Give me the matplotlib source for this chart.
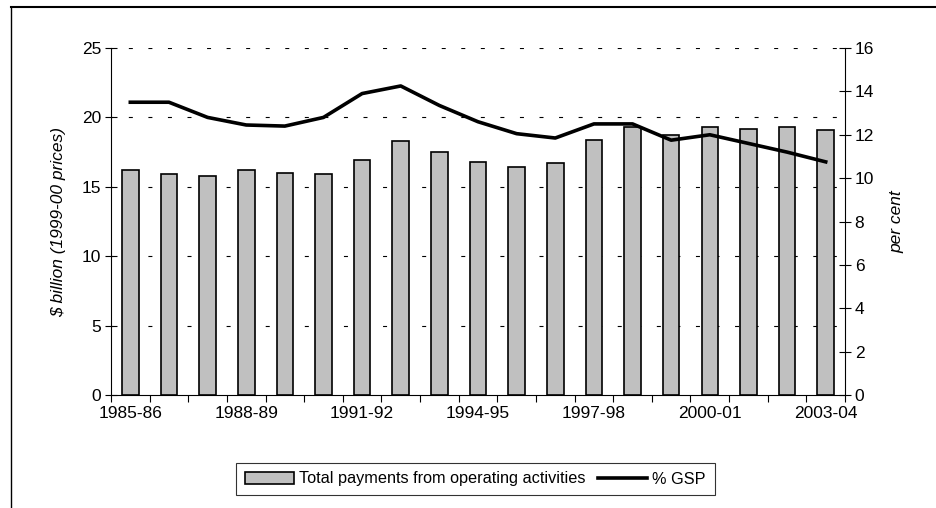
import numpy as np
import matplotlib.pyplot as plt
from matplotlib.lines import Line2D

plt.rcParams['font.family'] = ['Liberation Sans', 'DejaVu Sans']

years = ["1985-86", "1986-87", "1987-88", "1988-89", "1989-90", "1990-91",
         "1991-92", "1992-93", "1993-94", "1994-95", "1995-96", "1996-97",
         "1997-98", "1998-99", "1999-00", "2000-01", "2001-02", "2002-03",
         "2003-04"]
payments = [16.2, 15.9, 15.8, 16.2, 16.0, 15.9, 16.9, 18.3, 17.5, 16.8,
            16.4, 16.7, 18.4, 19.3, 18.7, 19.3, 19.2, 19.3, 19.1]
pct_gsp = [13.5, 13.5, 12.8, 12.45, 12.4, 12.8, 13.9, 14.25, 13.35, 12.6,
           12.05, 11.85, 12.5, 12.5, 11.75, 12.0, 11.6, 11.2, 10.75]
label_every = 3
fs = 12.5

fig = plt.figure(figsize=(9.36, 5.08), dpi=100)
ax = fig.add_axes([0.1186, 0.2224, 0.9028 - 0.1186, 0.9055 - 0.2224])
ax2 = ax.twinx()

x = np.arange(len(years))
ax.bar(x, payments, width=0.43, color="#c0c0c0", edgecolor="black",
       linewidth=1.2, zorder=3, label="Total payments from operating activities")
ax2.plot(x, pct_gsp, color="black", linewidth=2.6, label="% GSP",
         solid_joinstyle="round")

ax.set_xlim(-0.5, len(years) - 0.5)
ax.set_ylim(0, 25)
ax.set_yticks(np.arange(0, 26, 5))
ax2.set_ylim(0, 16)
ax2.set_yticks(np.arange(0, 17, 2))

# gridlines, dashed
for v in np.arange(5, 26, 5):
    ax.axhline(v, color="black", lw=0.8, linestyle=(2, (3.6, 14)), zorder=1)

ax.set_xticks(np.arange(-0.5, len(years), 1))
ax.set_xticklabels([])
ax.set_xticks(x[::label_every], minor=True)
ax.set_xticklabels(years[::label_every], minor=True, fontsize=fs)
ax.tick_params(axis="x", which="major", direction="out", length=5, width=0.8)
ax.tick_params(axis="x", which="minor", length=0, pad=8)
ax.tick_params(axis="y", direction="inout", length=8, width=0.8,
               labelsize=fs, pad=3)
ax2.tick_params(axis="y", direction="inout", length=8, width=0.8,
                labelsize=fs, pad=3)

for a in (ax, ax2):
    a.spines["top"].set_visible(False)
ax.spines["right"].set_visible(False)
ax2.spines["left"].set_visible(False)
ax2.spines["bottom"].set_visible(False)

ax.set_ylabel("$ billion (1999-00 prices)", style="italic", fontsize=fs,
              labelpad=11)
ax2.set_ylabel("per cent", style="italic", fontsize=fs, labelpad=11)

h1, l1 = ax.get_legend_handles_labels()
h2, l2 = ax2.get_legend_handles_labels()
leg = fig.legend(h1 + h2, l1 + l2, loc="center", ncol=2,
                 bbox_to_anchor=(0.508, 1 - 479 / 508), fontsize=11.7,
                 frameon=True, fancybox=False, edgecolor="black",
                 handlelength=3, handletextpad=0.3, columnspacing=0.8,
                 borderpad=0.55)
leg.get_frame().set_linewidth(0.8)

# figure border (top and left only visible)
fig.add_artist(Line2D([11 / 936, 1], [1 - 7 / 508, 1 - 7 / 508],
                      transform=fig.transFigure, color="black", lw=1.5))
fig.add_artist(Line2D([11 / 936, 11 / 936], [0, 1 - 7 / 508],
                      transform=fig.transFigure, color="black", lw=1))

fig.savefig("out.png", dpi=100)
